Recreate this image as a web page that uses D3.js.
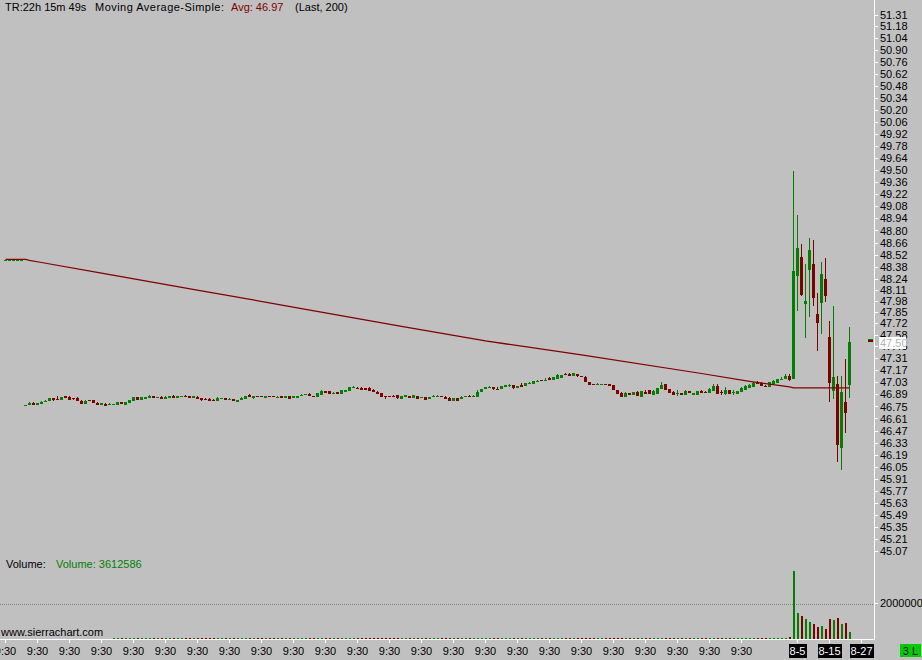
<!DOCTYPE html>
<html><head><meta charset="utf-8">
<script src="https://cdn.jsdelivr.net/npm/d3@7"></script>
<style>
html,body{margin:0;padding:0;background:#c0c0c0;overflow:hidden}
svg{display:block}
text{font-family:"Liberation Sans",Arial,sans-serif;font-size:11px}
</style></head><body>
<svg id="chart" width="922" height="660"></svg>
<script>
// ---------------- DATA (bars numbered 1..212, left to right) ----------------
const opens = [
48.452,48.452,48.452,48.452,48.452,46.763,46.771,46.794,46.767,46.783,
46.806,46.817,46.849,46.835,46.826,46.872,46.864,46.846,46.852,46.814,
46.779,46.823,46.822,46.794,46.767,46.783,46.771,46.771,46.771,46.799,
46.767,46.794,46.817,46.864,46.829,46.837,46.852,46.872,46.860,46.857,
46.841,46.849,46.869,46.849,46.868,46.876,46.872,46.849,46.864,46.849,
46.841,46.841,46.829,46.810,46.834,46.849,46.840,46.837,46.806,46.829,
46.841,46.880,46.849,46.870,46.870,46.852,46.870,46.870,46.863,46.872,
46.849,46.872,46.849,46.852,46.886,46.894,46.899,46.870,46.864,46.887,
46.930,46.930,46.910,46.919,46.899,46.919,46.930,46.976,46.966,46.969,
46.965,46.965,46.946,46.922,46.907,46.873,46.873,46.873,46.880,46.841,
46.861,46.872,46.852,46.876,46.860,46.861,46.837,46.871,46.871,46.873,
46.864,46.852,46.817,46.852,46.841,46.871,46.876,46.871,46.864,46.919,
46.954,46.976,46.977,46.955,46.954,46.977,46.999,47.000,46.969,47.004,
46.992,47.023,47.015,47.046,47.059,47.057,47.082,47.058,47.074,47.082,
47.129,47.128,47.102,47.128,47.106,47.093,47.035,47.013,47.011,47.011,
47.013,47.012,47.000,46.946,46.907,46.864,46.907,46.887,46.915,46.864,
46.922,46.946,46.887,46.895,46.954,47.012,46.954,46.919,46.906,46.911,
46.887,46.930,46.887,46.887,46.926,46.920,46.911,46.930,46.989,46.920,
46.899,46.942,46.918,46.899,46.922,46.946,46.965,46.980,47.035,47.024,
46.990,46.977,47.012,47.024,47.069,47.070,47.105,47.070,48.270,48.491,
47.944,48.340,48.410,47.827,47.955,48.235,47.559,46.930,47.012,46.266,
46.802,47.000];
const highs = [
48.453,48.453,48.453,48.453,48.453,46.764,46.806,46.806,46.791,46.814,
46.826,46.849,46.849,46.872,46.857,46.872,46.872,46.846,46.864,46.826,
46.822,46.823,46.822,46.802,46.791,46.791,46.791,46.783,46.799,46.799,
46.806,46.829,46.864,46.864,46.861,46.861,46.880,46.872,46.861,46.869,
46.876,46.872,46.880,46.872,46.869,46.884,46.872,46.872,46.876,46.849,
46.849,46.849,46.841,46.864,46.852,46.849,46.852,46.837,46.829,46.857,
46.876,46.892,46.872,46.870,46.870,46.876,46.870,46.870,46.876,46.872,
46.872,46.872,46.872,46.876,46.899,46.895,46.911,46.870,46.903,46.942,
46.930,46.930,46.922,46.919,46.942,46.942,46.977,46.989,46.977,46.980,
46.965,46.977,46.957,46.934,46.907,46.873,46.873,46.884,46.887,46.876,
46.884,46.872,46.887,46.876,46.861,46.861,46.861,46.884,46.884,46.873,
46.876,46.864,46.852,46.852,46.872,46.872,46.887,46.884,46.942,46.954,
46.977,46.989,46.977,46.977,46.989,47.000,47.012,47.000,46.992,47.024,
47.024,47.035,47.047,47.058,47.059,47.082,47.093,47.093,47.128,47.117,
47.140,47.140,47.140,47.128,47.106,47.105,47.035,47.013,47.024,47.012,
47.013,47.012,47.000,46.946,46.919,46.919,46.907,46.919,46.926,46.926,
46.946,46.946,46.946,46.965,47.035,47.012,46.954,46.930,46.942,46.911,
46.942,46.930,46.911,46.930,46.942,46.930,46.965,47.012,47.012,46.942,
46.977,46.942,46.942,46.930,46.977,47.000,47.012,47.039,47.047,47.035,
47.000,47.035,47.058,47.070,47.093,47.128,47.128,49.493,48.980,48.643,
48.410,48.712,48.689,48.072,48.433,48.480,47.746,47.920,47.105,47.105,
47.303,47.676];
const lows = [
48.452,48.452,48.452,48.452,48.452,46.763,46.771,46.771,46.767,46.783,
46.806,46.817,46.814,46.826,46.826,46.849,46.829,46.826,46.817,46.783,
46.779,46.822,46.791,46.771,46.767,46.759,46.771,46.771,46.771,46.779,
46.767,46.794,46.817,46.829,46.829,46.837,46.852,46.849,46.860,46.841,
46.841,46.849,46.852,46.849,46.868,46.861,46.849,46.849,46.841,46.817,
46.829,46.817,46.817,46.810,46.834,46.826,46.840,46.814,46.806,46.829,
46.841,46.861,46.841,46.869,46.869,46.852,46.869,46.869,46.863,46.849,
46.849,46.841,46.849,46.852,46.886,46.894,46.876,46.869,46.864,46.887,
46.907,46.895,46.910,46.895,46.899,46.919,46.930,46.976,46.950,46.946,
46.942,46.930,46.919,46.895,46.864,46.841,46.872,46.872,46.841,46.841,
46.861,46.849,46.852,46.841,46.860,46.826,46.837,46.871,46.871,46.872,
46.841,46.817,46.817,46.817,46.841,46.871,46.864,46.871,46.864,46.919,
46.954,46.965,46.942,46.954,46.954,46.977,46.977,46.957,46.969,46.980,
46.992,47.023,47.015,47.035,47.058,47.057,47.055,47.058,47.074,47.082,
47.117,47.102,47.102,47.093,47.105,47.035,47.004,47.012,47.011,47.011,
47.012,46.989,46.946,46.899,46.864,46.864,46.884,46.887,46.876,46.864,
46.895,46.899,46.887,46.895,46.954,46.942,46.907,46.887,46.876,46.887,
46.887,46.907,46.887,46.887,46.903,46.907,46.911,46.930,46.899,46.884,
46.887,46.895,46.887,46.899,46.922,46.946,46.965,46.980,47.012,46.989,
46.977,46.977,47.012,47.024,47.058,47.070,47.043,47.070,47.862,48.037,
47.548,47.792,47.920,47.396,47.594,47.967,46.802,46.837,46.103,46.010,
46.441,46.849];
const closes = [
48.453,48.453,48.453,48.453,48.453,46.764,46.794,46.771,46.791,46.806,
46.817,46.849,46.829,46.834,46.857,46.849,46.829,46.845,46.817,46.783,
46.810,46.822,46.791,46.771,46.791,46.759,46.783,46.783,46.799,46.779,
46.806,46.829,46.864,46.829,46.861,46.861,46.869,46.849,46.861,46.841,
46.864,46.872,46.852,46.872,46.869,46.861,46.849,46.872,46.841,46.829,
46.829,46.817,46.817,46.845,46.845,46.826,46.841,46.814,46.829,46.849,
46.876,46.861,46.872,46.869,46.869,46.876,46.869,46.869,46.864,46.849,
46.872,46.841,46.872,46.876,46.887,46.895,46.876,46.869,46.903,46.930,
46.907,46.895,46.911,46.895,46.942,46.942,46.977,46.977,46.965,46.946,
46.942,46.930,46.919,46.895,46.864,46.872,46.872,46.872,46.852,46.876,
46.884,46.849,46.880,46.841,46.861,46.826,46.861,46.872,46.872,46.872,
46.841,46.817,46.852,46.817,46.861,46.872,46.864,46.872,46.919,46.954,
46.977,46.977,46.954,46.954,46.989,47.000,47.000,46.969,46.992,46.980,
47.024,47.024,47.047,47.047,47.058,47.058,47.055,47.093,47.117,47.117,
47.128,47.102,47.140,47.102,47.105,47.035,47.004,47.012,47.012,47.012,
47.012,46.989,46.946,46.899,46.864,46.903,46.884,46.919,46.876,46.926,
46.895,46.899,46.934,46.965,47.000,46.942,46.907,46.887,46.907,46.887,
46.930,46.907,46.911,46.930,46.903,46.919,46.950,46.989,46.899,46.919,
46.942,46.895,46.919,46.930,46.965,46.992,47.004,47.024,47.012,46.989,
46.989,47.035,47.047,47.070,47.070,47.105,47.058,48.328,48.596,48.049,
47.979,48.573,48.014,47.722,48.293,48.037,47.023,47.093,46.301,46.919,
46.674,47.501];
const volumes = [
0,0,0,0,0,0,0,0,0,0,0,0,0,0,0,0,0,0,0,0,0,0,0,0,0,0,0,
60000,60000,60000,60000,60000,60000,60000,60000,60000,60000,60000,60000,60000,
60000,60000,60000,60000,60000,60000,60000,60000,60000,60000,60000,60000,60000,
60000,60000,60000,60000,60000,60000,60000,60000,60000,60000,60000,60000,60000,
60000,60000,60000,60000,60000,60000,60000,60000,60000,60000,60000,60000,60000,
60000,60000,60000,60000,60000,60000,60000,60000,60000,60000,60000,60000,60000,
60000,60000,60000,60000,60000,60000,60000,60000,60000,60000,60000,60000,60000,
60000,60000,60000,60000,60000,60000,60000,60000,60000,60000,60000,60000,60000,
60000,60000,60000,60000,60000,60000,60000,60000,60000,60000,60000,60000,60000,
60000,60000,60000,60000,60000,60000,60000,60000,60000,60000,60000,60000,60000,
60000,60000,60000,60000,60000,60000,60000,60000,60000,60000,60000,60000,60000,
60000,60000,60000,60000,60000,60000,60000,60000,60000,60000,60000,60000,60000,
60000,60000,60000,60000,60000,60000,60000,60000,60000,60000,60000,60000,60000,
60000,60000,60000,60000,60000,60000,60000,60000,60000,60000,60000,60000,60000,
110000,3810000,1480000,1290000,1120000,950000,840000,670000,730000,560000,
1120000,1070000,1180000,840000,900000,390000];

const maIdx = [1, 6, 7, 10, 25, 50, 75, 100, 121, 145, 175, 187, 197, 198, 212];
const maVal = [48.464, 48.464, 48.453, 48.427, 48.304, 48.097, 47.891, 47.684, 47.513, 47.352, 47.134, 47.043, 46.977, 46.966, 46.966];

// axis ticks
const priceTicks = [51.31,51.18,51.04,50.90,50.76,50.62,50.48,50.34,50.20,50.06,49.92,49.78,49.64,49.50,49.36,49.22,49.08,48.94,48.80,48.66,48.52,48.38,48.24,48.11,47.98,47.85,47.72,47.58,47.45,47.31,47.17,47.03,46.89,46.75,46.61,46.47,46.33,46.19,46.05,45.91,45.77,45.63,45.49,45.35,45.21,45.07];
const volumeTicks = [2000000];
const timeTickIdx = [1,9,17,25,33,41,49,57,65,73,81,89,97,105,113,121,129,137,145,153,161,169,177,185,199,207,215];
const timeTickLabels = ['9:30','9:30','9:30','9:30','9:30','9:30','9:30','9:30','9:30','9:30','9:30','9:30','9:30','9:30','9:30','9:30','9:30','9:30','9:30','9:30','9:30','9:30','9:30','9:30','8-5','8-15','8-27'];
const dateTickIdx = [199, 207, 215];

const headerTR = 'TR:22h 15m 49s';
const headerStudy = 'Moving Average-Simple:';
const headerAvg = 'Avg: 46.97';
const headerParams = '(Last, 200)';
const volumeLabel = 'Volume:';
const volumeValueLabel = 'Volume: 3612586';

// ---------------- DRAW ----------------
const W = 922, H = 660;
const GREEN = '#008000', RED = '#800000';
const svg = d3.select('#chart');
svg.append('rect').attr('width', W).attr('height', H).attr('fill', '#c0c0c0');

const xC = d3.scaleLinear().domain([0, 230]).range([1.5, 921.5]);   // bar centre
const y = d3.scaleLinear().domain([45.07, 51.31]).range([550.7, 15]);
const yV = d3.scaleLinear().domain([0, 2000000]).range([639, 603.5]);

const bars = opens.map((o, i) => ({k: i + 1, o, h: highs[i], l: lows[i], c: closes[i], v: volumes[i]}));
const col = d => d.c >= d.o ? GREEN : RED;

// dotted volume reference line
svg.append('line').attr('x1', 0).attr('x2', 874).attr('y1', Math.round(yV(2000000)) + 0.5).attr('y2', Math.round(yV(2000000)) + 0.5)
  .attr('stroke', '#808080').attr('stroke-dasharray', '1,1');

const g = svg.append('g').attr('shape-rendering', 'crispEdges');
// wicks
g.selectAll('rect.wick').data(bars).join('rect').attr('class', 'wick')
  .attr('x', d => xC(d.k) - 0.5).attr('width', 1)
  .attr('y', d => Math.round(y(d.h)))
  .attr('height', d => Math.max(1, Math.round(y(d.l)) - Math.round(y(d.h))))
  .attr('fill', col);
// bodies
g.selectAll('rect.body').data(bars).join('rect').attr('class', 'body')
  .attr('x', d => xC(d.k) - 1.5).attr('width', 3)
  .attr('y', d => Math.round(y(Math.max(d.o, d.c))))
  .attr('height', d => Math.max(1, Math.round(y(Math.min(d.o, d.c))) - Math.round(y(Math.max(d.o, d.c)))))
  .attr('fill', col);
// volume
g.selectAll('rect.vol').data(bars.filter(d => Math.round(yV(d.v)) < 639)).join('rect').attr('class', 'vol')
  .attr('x', d => xC(d.k) - 0.5).attr('width', 2)
  .attr('y', d => Math.round(yV(d.v)))
  .attr('height', d => 639 - Math.round(yV(d.v)))
  .attr('fill', col);

// moving average
const maPts = maIdx.map((k, i) => [k, maVal[i]]);
svg.append('path').datum(maPts)
  .attr('d', d3.line().x(d => xC(d[0])).y(d => y(d[1])))
  .attr('fill', 'none').attr('stroke', RED).attr('stroke-width', 1.25);

// axes lines
svg.append('line').attr('x1', 874.5).attr('x2', 874.5).attr('y1', 0).attr('y2', 640).attr('stroke', '#fff').attr('shape-rendering', 'crispEdges');
svg.append('line').attr('x1', 0).attr('x2', 875).attr('y1', 639.5).attr('y2', 639.5).attr('stroke', '#fff').attr('shape-rendering', 'crispEdges');

function styleAxis(sel) {
  sel.select('.domain').remove();
  sel.attr('font-family', '"Liberation Sans", Arial, sans-serif').attr('font-size', 11);
  sel.selectAll('.tick line').attr('stroke', '#fff').attr('shape-rendering', 'crispEdges');
  sel.selectAll('.tick text').attr('fill', '#000');
}
const ya = svg.append('g').attr('transform', 'translate(875,0)')
  .call(d3.axisRight(y).tickValues(priceTicks).tickSize(3).tickPadding(2).tickFormat(d3.format('.2f')).offset(0.5));
styleAxis(ya);
const va = svg.append('g').attr('transform', 'translate(875,0)')
  .call(d3.axisRight(yV).tickValues(volumeTicks).tickSize(3).tickPadding(2).tickFormat(d3.format('d')).offset(0));
styleAxis(va);

const xa = svg.append('g').attr('transform', 'translate(0,640)')
  .call(d3.axisBottom(xC).tickValues(timeTickIdx).tickFormat((d, i) => timeTickLabels[i]).tickSize(3).tickPadding(4).offset(0));
styleAxis(xa);
xa.selectAll('.tick').filter(d => dateTickIdx.includes(d)).each(function() {
  const t = d3.select(this).select('text');
  const bb = t.node().getBBox();
  d3.select(this).insert('rect', 'text')
    .attr('x', Math.round(bb.x) - 1).attr('y', 4).attr('width', Math.round(bb.width) + 2).attr('height', 14)
    .attr('fill', '#000').attr('shape-rendering', 'crispEdges');
  t.attr('fill', '#fff');
});

// last price marker and box
const last = bars[bars.length - 1];
const yl = Math.round(y(last.c));
svg.append('rect').attr('x', 868).attr('y', yl - 3).attr('width', 5).attr('height', 1).attr('fill', GREEN).attr('shape-rendering', 'crispEdges');
svg.append('rect').attr('x', 868).attr('y', yl - 2).attr('width', 5).attr('height', 2).attr('fill', RED).attr('shape-rendering', 'crispEdges');
svg.append('rect').attr('x', 879).attr('y', yl - 5).attr('width', 27).attr('height', 12).attr('fill', '#fff').attr('shape-rendering', 'crispEdges');
svg.append('text').attr('x', 880).attr('y', yl + 5).attr('fill', '#b4b4b4').text(d3.format('.2f')(last.c));

// header
svg.append('text').attr('x', 5).attr('y', 11).attr('fill', '#000').text(headerTR);
svg.append('text').attr('x', 95).attr('y', 11).attr('fill', '#000').attr('textLength', 129).attr('lengthAdjust', 'spacing').text(headerStudy);
svg.append('text').attr('x', 231).attr('y', 11).attr('fill', RED).text(headerAvg);
svg.append('text').attr('x', 295).attr('y', 11).attr('fill', '#000').text(headerParams);

// volume labels
svg.append('text').attr('x', 6).attr('y', 568).attr('fill', '#000').text(volumeLabel);
svg.append('text').attr('x', 56).attr('y', 568).attr('fill', GREEN).text(volumeValueLabel);

svg.append('text').attr('x', 1).attr('y', 636).attr('fill', '#000').text('www.sierrachart.com');

// "3 L" box
svg.append('rect').attr('x', 900).attr('y', 644).attr('width', 21).attr('height', 13).attr('fill', '#00cc00').attr('shape-rendering', 'crispEdges');
svg.append('text').attr('x', 910.5).attr('y', 655).attr('text-anchor', 'middle').attr('fill', '#000').text('3 L');
</script>
</body></html>
